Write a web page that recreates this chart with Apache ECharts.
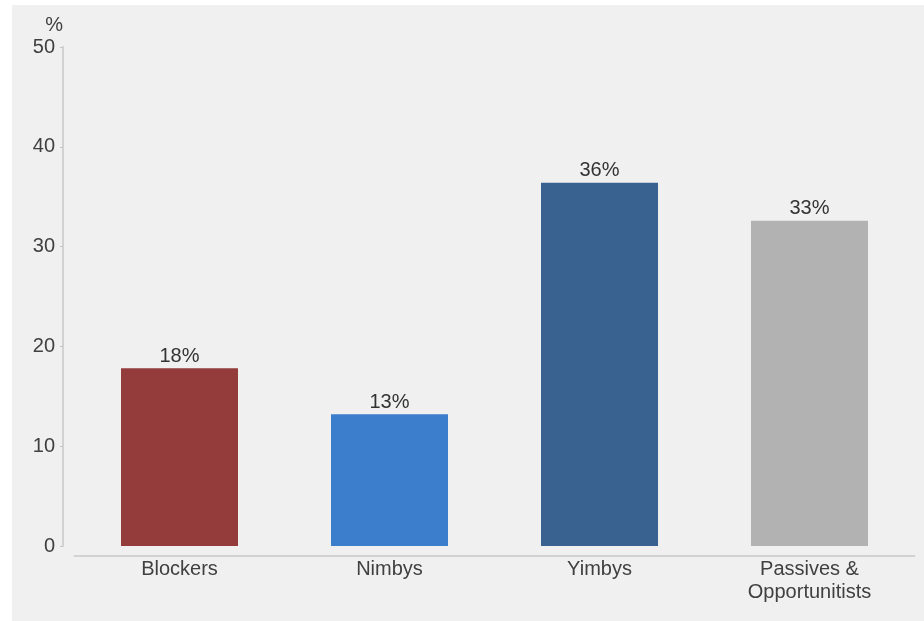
<!DOCTYPE html>
<html>
<head>
<meta charset="utf-8">
<script src="https://cdn.jsdelivr.net/npm/echarts@6/dist/echarts.min.js"></script>
<style>
html,body{margin:0;padding:0;background:#fff;}
#c{width:924px;height:621px;}
</style>
</head>
<body>
<div id="c"></div>
<script>
const categories = ['Blockers', 'Nimbys', 'Yimbys', 'Passives &\nOpportunitists'];
const values = [17.8, 13.2, 36.4, 32.6];
const barColors = ['#943b3b', '#3d7ecc', '#3a6291', '#b2b2b2'];
const yTicks = [0, 10, 20, 30, 40, 50];

const chart = echarts.init(document.getElementById('c'), null, {renderer: 'canvas'});
const font = 'Liberation Sans, Arial, sans-serif';
chart.setOption({
  backgroundColor: '#ffffff',
  animation: false,
  graphic: [{
    type: 'rect', z: -10, silent: true,
    shape: {x: 12, y: 5, width: 912, height: 616},
    style: {fill: '#f0f0f0'}
  }],
  grid: {left: 74.5, right: 9.5, top: 47, bottom: 75, containLabel: false},
  xAxis: {
    type: 'category',
    data: categories,
    offset: 10,
    axisLine: {show: true, onZero: false, lineStyle: {color: '#d2d2d2', width: 2}},
    axisTick: {show: false},
    axisLabel: {color: '#404040', fontSize: 20, fontFamily: font, margin: 2, lineHeight: 23, interval: 0}
  },
  yAxis: {
    type: 'value',
    min: yTicks[0], max: yTicks[yTicks.length - 1], interval: 10,
    offset: 11.5,
    name: '%',
    nameLocation: 'end',
    nameGap: 22,
    nameTextStyle: {color: '#404040', fontSize: 20, fontFamily: font, align: 'right', verticalAlign: 'middle'},
    axisLine: {show: true, lineStyle: {color: '#d2d2d2', width: 2}},
    axisTick: {show: true, length: 3, lineStyle: {color: '#c4c4c4', width: 1}},
    splitLine: {show: false},
    axisLabel: {color: '#404040', fontSize: 20, fontFamily: font, margin: 8}
  },
  series: [{
    type: 'bar',
    barWidth: 117,
    data: values.map((v, i) => ({value: v, itemStyle: {color: barColors[i]}})),
    label: {
      show: true, position: 'top', distance: 2,
      color: '#333333', fontSize: 20, fontFamily: font,
      formatter: p => Math.round(p.value) + '%'
    }
  }]
});
</script>
</body>
</html>
